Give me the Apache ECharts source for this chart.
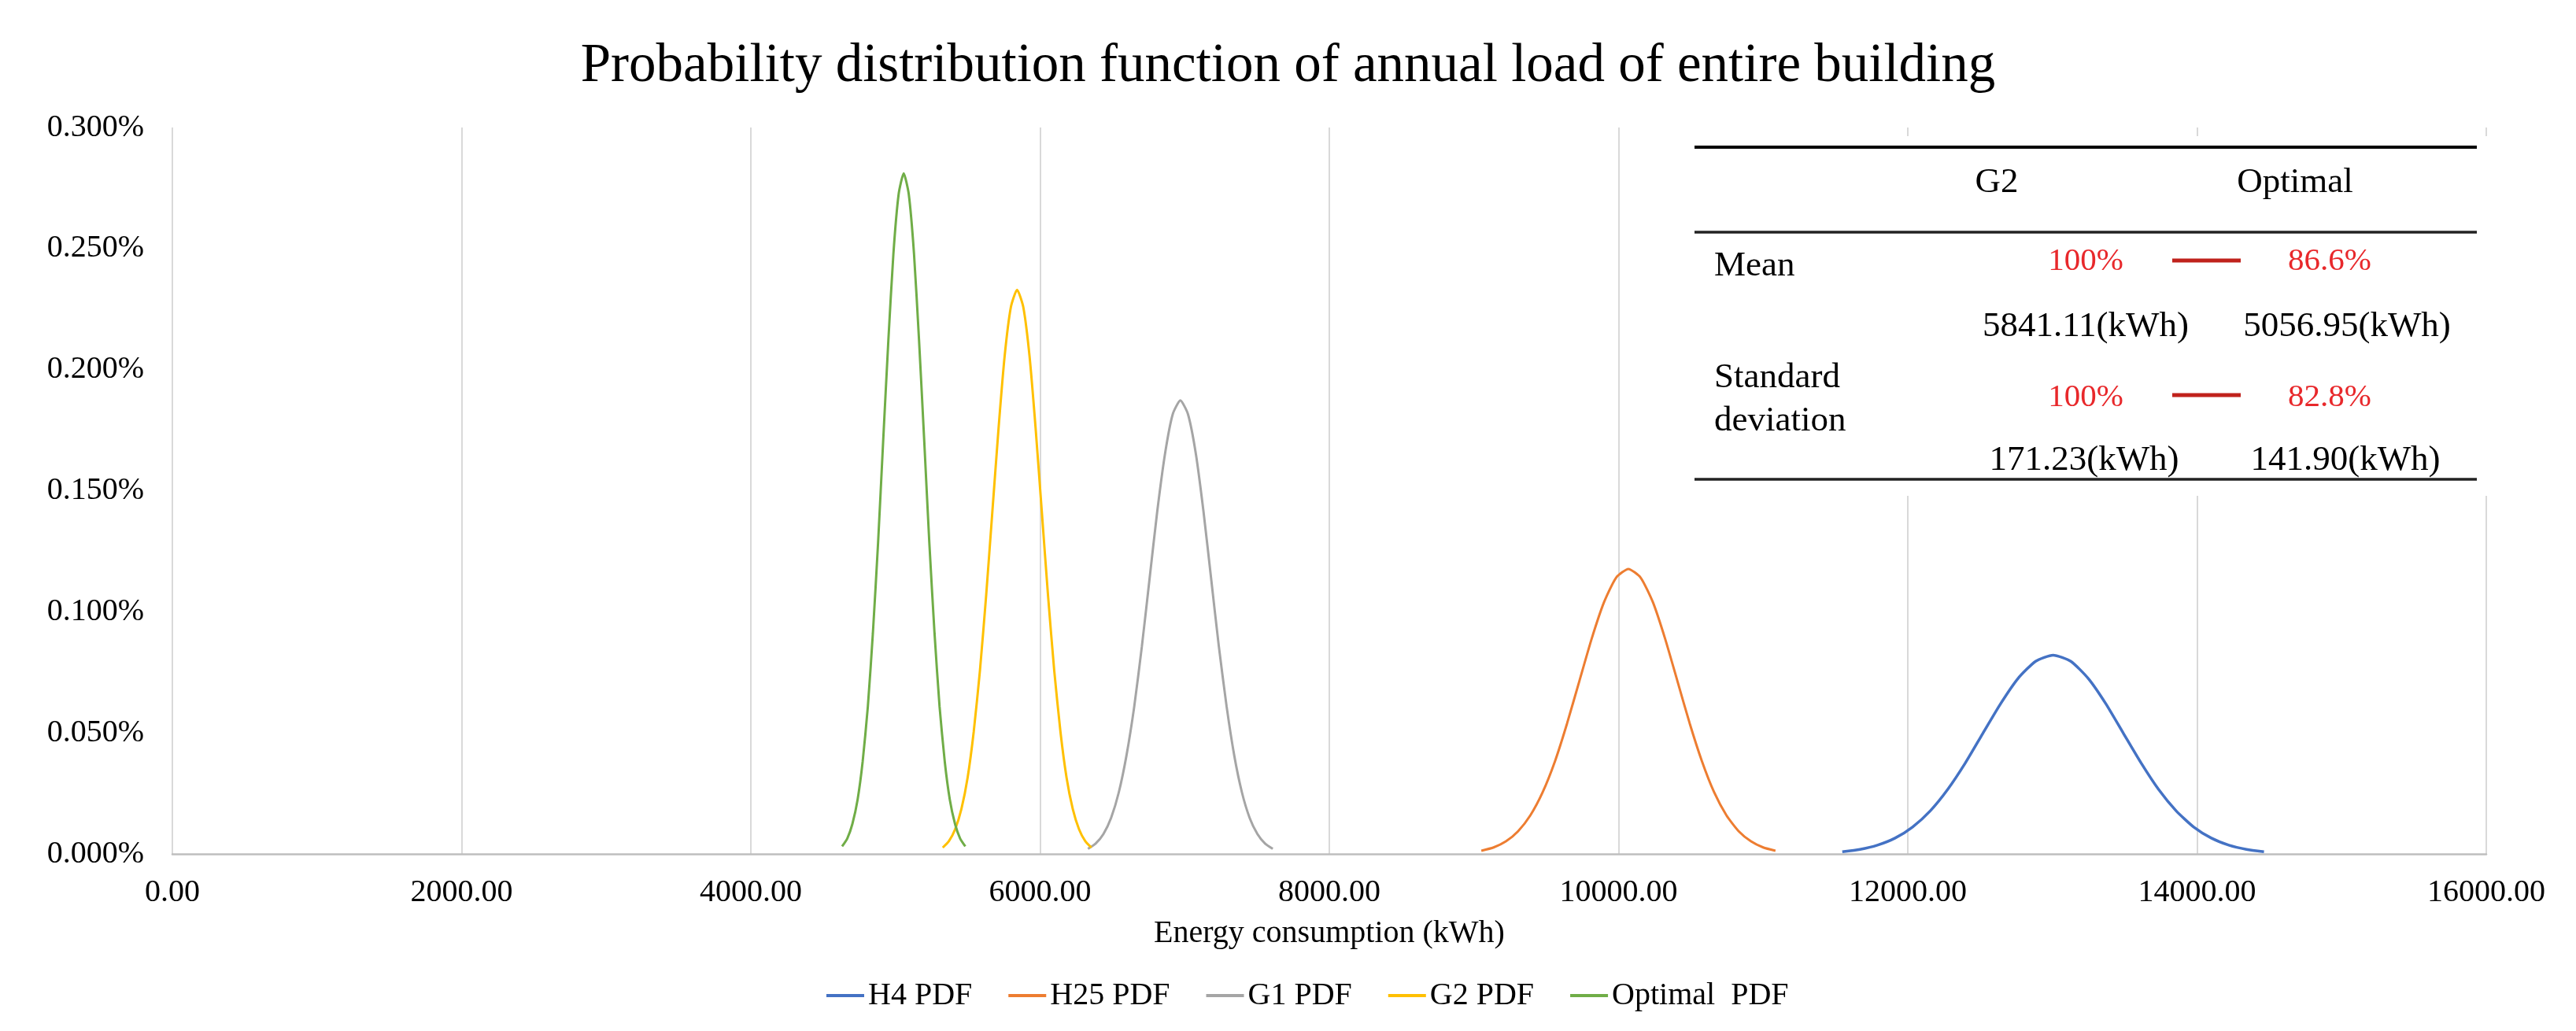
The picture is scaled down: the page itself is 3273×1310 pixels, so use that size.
<!DOCTYPE html>
<html>
<head>
<meta charset="utf-8">
<script src="https://cdn.jsdelivr.net/npm/echarts@6/dist/echarts.min.js"></script>
<style>
html,body{margin:0;padding:0;background:#fff;}
#chart{width:3273px;height:1310px;}
</style>
</head>
<body>
<div id="chart"></div>
<script>
// Series values (x in kWh, y in %)
var seriesNames = ['H4 PDF', 'H25 PDF', 'G1 PDF', 'G2 PDF', 'Optimal  PDF'];
var seriesColors = ['#4472C4', '#ED7D31', '#A5A5A5', '#FFC000', '#70AD47'];

var h4X = [11547,11669,11790,11912,12033,12155,12276,12398,12519,12641,12762,12884,13005,13127,13248,13370,13491,13613,13734,13856,13977,14099,14220,14342,14463];
var h4Y = [0.00091,0.00187,0.00361,0.00653,0.01111,0.01776,0.02665,0.03759,0.04980,0.06197,0.07245,0.07957,0.08210,0.07957,0.07245,0.06197,0.04980,0.03759,0.02665,0.01776,0.01111,0.00653,0.00361,0.00187,0.00091];

var h25X = [9051,9136,9221,9305,9390,9475,9560,9644,9729,9814,9899,9983,10068,10153,10238,10322,10407,10492,10577,10661,10746,10831,10916,11000,11085];
var h25Y = [0.00131,0.00268,0.00517,0.00936,0.01593,0.02546,0.03821,0.05389,0.07139,0.08885,0.10387,0.11408,0.11770,0.11408,0.10387,0.08885,0.07139,0.05389,0.03821,0.02546,0.01593,0.00936,0.00517,0.00268,0.00131];

var g1X = [6331,6384,6438,6491,6544,6597,6651,6704,6757,6810,6864,6917,6970,7023,7077,7130,7183,7236,7290,7343,7396,7449,7503,7556,7609];
var g1Y = [0.00208,0.00427,0.00823,0.01490,0.02535,0.04051,0.06081,0.08575,0.11360,0.14138,0.16529,0.18154,0.18730,0.18154,0.16529,0.14138,0.11360,0.08575,0.06081,0.04051,0.02535,0.01490,0.00823,0.00427,0.00208];

var g2X = [5327,5370,5413,5456,5499,5541,5584,5627,5670,5713,5755,5798,5841,5884,5927,5969,6012,6055,6098,6141,6183,6226,6269,6312,6355];
var g2Y = [0.00259,0.00531,0.01024,0.01854,0.03153,0.05039,0.07564,0.10667,0.14132,0.17588,0.20562,0.22583,0.23300,0.22583,0.20562,0.17588,0.14132,0.10667,0.07564,0.05039,0.03153,0.01854,0.01024,0.00531,0.00259];

var optX = [4631,4667,4702,4738,4773,4809,4844,4880,4915,4951,4986,5022,5057,5092,5128,5163,5199,5234,5270,5305,5341,5376,5412,5447,5483];
var optY = [0.00312,0.00641,0.01235,0.02236,0.03804,0.06079,0.09126,0.12870,0.17050,0.21219,0.24807,0.27245,0.28110,0.27245,0.24807,0.21219,0.17050,0.12870,0.09126,0.06079,0.03804,0.02236,0.01235,0.00641,0.00312];

// Table texts
var tableHeader = ['G2', 'Optimal'];
var tableRowLabels = ['Mean', 'Standard', 'deviation'];
var meanPct = ['100%', '86.6%'];
var meanVal = ['5841.11(kWh)', '5056.95(kWh)'];
var sdPct = ['100%', '82.8%'];
var sdVal = ['171.23(kWh)', '141.90(kWh)'];

var FONT = "'Times New Roman', 'Liberation Serif', serif";

function zip(xs, ys) {
  var out = [];
  for (var i = 0; i < xs.length; i++) out.push([xs[i], ys[i]]);
  return out;
}
var allX = [h4X, h25X, g1X, g2X, optX];
var allY = [h4Y, h25Y, g1Y, g2Y, optY];

var series = seriesNames.map(function (n, i) {
  return {
    name: n,
    type: 'line',
    data: zip(allX[i], allY[i]),
    smooth: 0.2,
    symbol: 'none',
    showSymbol: false,
    lineStyle: { width: i === 0 ? 3.5 : 3, color: seriesColors[i] },
    itemStyle: { color: seriesColors[i] },
    z: 3
  };
});

function txt(t, x, y, size, color, align) {
  return {
    type: 'text', z: 102,
    style: {
      text: t, x: x, y: y,
      fontSize: size, fontFamily: FONT, fill: color,
      align: align || 'center', verticalAlign: 'middle',
      textAlign: align || 'center', textVerticalAlign: 'middle'
    }
  };
}
function hline(x1, x2, y, w, color) {
  return { type: 'line', z: 101, shape: { x1: x1, y1: y, x2: x2, y2: y }, style: { stroke: color, lineWidth: w } };
}

var RED = '#E8282B';
var DASH = '#C0221C';
var graphics = [
  { type: 'rect', z: 100, shape: { x: 2140, y: 173, width: 1032, height: 457 }, style: { fill: '#ffffff' } },
  hline(2153, 3147, 187, 4, '#000'),
  hline(2153, 3147, 295, 3.5, '#222'),
  hline(2153, 3147, 609, 3.5, '#222'),
  txt(tableHeader[0], 2537, 232, 45, '#000'),
  txt(tableHeader[1], 2916, 232, 45, '#000'),
  txt(tableRowLabels[0], 2178, 338, 45, '#000', 'left'),
  txt(tableRowLabels[1], 2178, 480, 45, '#000', 'left'),
  txt(tableRowLabels[2], 2178, 535, 45, '#000', 'left'),
  txt(meanPct[0], 2650, 332, 41, RED),
  txt(meanPct[1], 2960, 332, 41, RED),
  hline(2760, 2847, 331, 5, DASH),
  txt(meanVal[0], 2650, 415, 45, '#000'),
  txt(meanVal[1], 2982, 415, 45, '#000'),
  txt(sdPct[0], 2650, 505, 41, RED),
  txt(sdPct[1], 2960, 505, 41, RED),
  hline(2760, 2847, 502, 5, DASH),
  txt(sdVal[0], 2648, 585, 45, '#000'),
  txt(sdVal[1], 2980, 585, 45, '#000')
];

var chart = echarts.init(document.getElementById('chart'));
chart.setOption({
  animation: false,
  backgroundColor: '#ffffff',
  textStyle: { fontFamily: FONT },
  title: {
    text: 'Probability distribution function of annual load of entire building',
    left: 'center', top: 50, padding: 0,
    textStyle: { fontSize: 69, fontWeight: 'normal', color: '#000', fontFamily: FONT }
  },
  legend: {
    data: seriesNames,
    left: 1050, top: 1245, padding: 0,
    icon: 'rect', itemWidth: 48, itemHeight: 4, itemGap: 46,
    textStyle: { fontSize: 40, color: '#000', fontFamily: FONT }
  },
  grid: { left: 219, right: 114, top: 162, bottom: 225, containLabel: false },
  xAxis: {
    type: 'value', min: 0, max: 16000, interval: 2000,
    name: 'Energy consumption (kWh)', nameLocation: 'middle', nameGap: 81,
    nameTextStyle: { fontSize: 40, color: '#000', fontFamily: FONT },
    axisLine: { show: true, lineStyle: { color: '#BFBFBF', width: 2.5 } },
    axisTick: { show: false },
    axisLabel: { fontSize: 40, color: '#000', margin: 29, fontFamily: FONT,
      formatter: function (v) { return v.toFixed(2); } },
    splitLine: { show: true, lineStyle: { color: '#D9D9D9', width: 2 } }
  },
  yAxis: {
    type: 'value', min: 0, max: 0.3, interval: 0.05,
    axisLine: { show: false },
    axisTick: { show: false },
    axisLabel: { fontSize: 40, color: '#000', margin: 36, fontFamily: FONT,
      formatter: function (v) { return v.toFixed(3) + '%'; } },
    splitLine: { show: false }
  },
  series: series,
  graphic: { elements: graphics }
});
</script>
</body>
</html>
